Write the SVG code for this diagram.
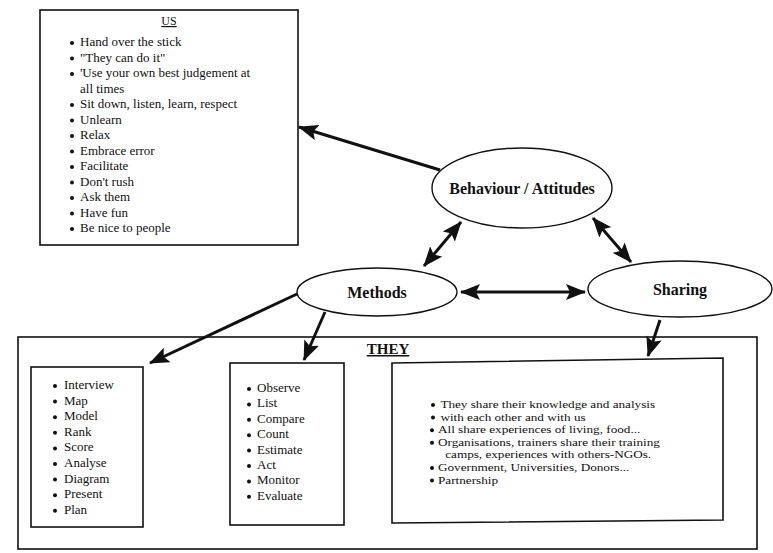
<svg xmlns="http://www.w3.org/2000/svg" width="773" height="553" viewBox="0 0 773 553">
<defs>
<style>
.box{fill:none;stroke:#111;stroke-width:1.6}
.ell{fill:#fff;stroke:#111;stroke-width:1.4}
.t{font-family:"Liberation Serif","Times New Roman",serif;fill:#111}
.l13{font-size:13px}
.l11{font-size:11px}
.lbl{font-size:16px;font-weight:bold;text-anchor:middle}
.con{stroke:#111;stroke-width:3;fill:none}
.b{fill:#111}
</style>
<marker id="ah" viewBox="0 0 20 16" refX="19" refY="8" markerWidth="20" markerHeight="16" markerUnits="userSpaceOnUse" orient="auto-start-reverse">
<path d="M0,0 L20,8 L0,16 L4,8 z" fill="#111"/>
</marker>
</defs>
<rect width="773" height="553" fill="#fff"/>

<g id="connectors">
<line class="con" x1="440" y1="170" x2="299" y2="127" marker-end="url(#ah)"/>
<line class="con" x1="424" y1="266" x2="461" y2="222" marker-start="url(#ah)" marker-end="url(#ah)"/>
<line class="con" x1="593" y1="218" x2="631" y2="262" marker-start="url(#ah)" marker-end="url(#ah)"/>
<line class="con" x1="461" y1="292" x2="585" y2="292" marker-start="url(#ah)" marker-end="url(#ah)"/>
<line class="con" x1="297" y1="294" x2="150" y2="363" marker-end="url(#ah)"/>
<line class="con" x1="325" y1="312" x2="304" y2="360" marker-end="url(#ah)"/>
<line class="con" x1="660" y1="320" x2="648" y2="356" marker-end="url(#ah)"/>
</g>

<g id="us">
<rect class="box" x="40" y="10" width="258" height="235"/>
<text class="t" x="169" y="25" font-size="12" text-anchor="middle" text-decoration="underline">US</text>
<g class="b">
<circle cx="72" cy="43" r="2"/><circle cx="72" cy="58.5" r="2"/><circle cx="72" cy="74" r="2"/>
<circle cx="72" cy="105" r="2"/><circle cx="72" cy="120.5" r="2"/><circle cx="72" cy="136" r="2"/>
<circle cx="72" cy="151.5" r="2"/><circle cx="72" cy="167" r="2"/><circle cx="72" cy="182.5" r="2"/>
<circle cx="72" cy="198" r="2"/><circle cx="72" cy="213.5" r="2"/><circle cx="72" cy="229" r="2"/>
</g>
<g class="t l13">
<text x="80" y="46">Hand over the stick</text>
<text x="80" y="61.5">"They can do it"</text>
<text x="80" y="77">'Use your own best judgement at</text>
<text x="80" y="92.5">all times</text>
<text x="80" y="108">Sit down, listen, learn, respect</text>
<text x="80" y="123.5">Unlearn</text>
<text x="80" y="139">Relax</text>
<text x="80" y="154.5">Embrace error</text>
<text x="80" y="170">Facilitate</text>
<text x="80" y="185.5">Don't rush</text>
<text x="80" y="201">Ask them</text>
<text x="80" y="216.5">Have fun</text>
<text x="80" y="232">Be nice to people</text>
</g>
</g>

<g id="behaviour">
<ellipse class="ell" cx="522" cy="188" rx="90" ry="40"/>
<text class="t lbl" x="522" y="194">Behaviour / Attitudes</text>
</g>

<g id="methods">
<ellipse class="ell" cx="377" cy="292" rx="80" ry="24"/>
<text class="t lbl" x="377" y="298">Methods</text>
</g>

<g id="sharing">
<ellipse class="ell" cx="680" cy="289" rx="92" ry="28"/>
<text class="t lbl" x="680" y="295">Sharing</text>
</g>

<g id="they">
<rect class="box" x="18" y="337" width="739" height="212"/>
<text class="t" x="388" y="354" font-size="15" font-weight="bold" text-anchor="middle" text-decoration="underline">THEY</text>
</g>

<g id="methods-list-1">
<rect class="box" x="31" y="367" width="112" height="160"/>
<g class="b">
<circle cx="55" cy="386" r="2"/><circle cx="55" cy="401.6" r="2"/><circle cx="55" cy="417.2" r="2"/>
<circle cx="55" cy="432.8" r="2"/><circle cx="55" cy="448.4" r="2"/><circle cx="55" cy="464" r="2"/>
<circle cx="55" cy="479.6" r="2"/><circle cx="55" cy="495.2" r="2"/><circle cx="55" cy="510.8" r="2"/>
</g>
<g class="t l13">
<text x="64" y="389">Interview</text>
<text x="64" y="404.6">Map</text>
<text x="64" y="420.2">Model</text>
<text x="64" y="435.8">Rank</text>
<text x="64" y="451.4">Score</text>
<text x="64" y="467">Analyse</text>
<text x="64" y="482.6">Diagram</text>
<text x="64" y="498.2">Present</text>
<text x="64" y="513.8">Plan</text>
</g>
</g>

<g id="methods-list-2">
<rect class="box" x="230" y="363" width="114" height="162"/>
<g class="b">
<circle cx="249" cy="389" r="2"/><circle cx="249" cy="404.4" r="2"/><circle cx="249" cy="419.8" r="2"/>
<circle cx="249" cy="435.2" r="2"/><circle cx="249" cy="450.6" r="2"/><circle cx="249" cy="466" r="2"/>
<circle cx="249" cy="481.4" r="2"/><circle cx="249" cy="496.8" r="2"/>
</g>
<g class="t l13">
<text x="257" y="392">Observe</text>
<text x="257" y="407.4">List</text>
<text x="257" y="422.8">Compare</text>
<text x="257" y="438.2">Count</text>
<text x="257" y="453.6">Estimate</text>
<text x="257" y="469">Act</text>
<text x="257" y="484.4">Monitor</text>
<text x="257" y="499.8">Evaluate</text>
</g>
</g>

<g id="sharing-list">
<path class="box" d="M392,363 L723,358 L723,520 L392,523 Z"/>
<g class="b">
<circle cx="433" cy="405" r="2"/><circle cx="433" cy="417.6" r="2"/><circle cx="432" cy="430.2" r="2"/>
<circle cx="432" cy="442.8" r="2"/><circle cx="432" cy="468" r="2"/><circle cx="432" cy="480.6" r="2"/>
</g>
<g class="t l11" transform="matrix(1.2,0,0,1,-87.6,0)">
<text x="440" y="408">They share their knowledge and analysis</text>
<text x="440" y="420.6">with each other and with us</text>
<text x="438" y="433.2">All share experiences of living, food...</text>
<text x="438" y="445.8">Organisations, trainers share their training</text>
<text x="444" y="458.4">camps, experiences with others-NGOs.</text>
<text x="438" y="471">Government, Universities, Donors...</text>
<text x="438" y="483.6">Partnership</text>
</g>
</g>
</svg>
